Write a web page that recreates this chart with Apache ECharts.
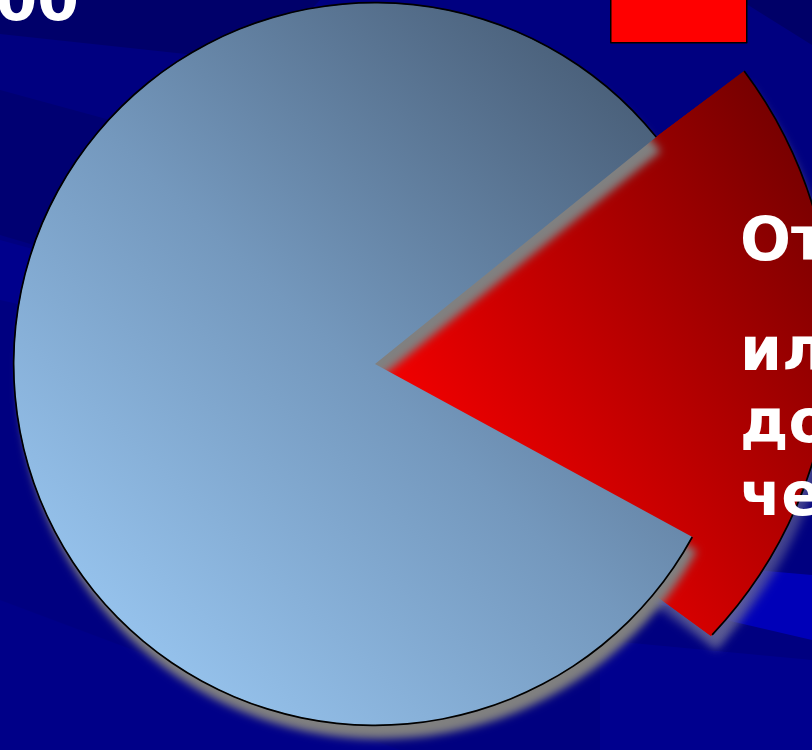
<!DOCTYPE html>
<html>
<head>
<meta charset="utf-8">
<script src="https://cdn.jsdelivr.net/npm/echarts@6/dist/echarts.min.js"></script>
<style>
html,body{margin:0;padding:0;background:#000080;}
#chart{width:812px;height:750px;}
</style>
</head>
<body>
<div id="chart"></div>
<script>
// ---- data ----
const categories = ['Остальные', 'Отказались'];
const shares = [81.25, 18.75];
const topLabel = '00';
const sideLines = ['От', 'ил', 'до', 'че'];

const chart = echarts.init(document.getElementById('chart'), null, {renderer: 'canvas'});

const blueGrad = new echarts.graphic.LinearGradient(0, 1, 1, 0, [
  {offset: 0, color: '#A3D3FF'},
  {offset: 0.5, color: '#7498BD'},
  {offset: 1, color: '#3E5067'}
]);
// global-coordinate gradient so the two red sectors blend seamlessly
const redGrad = new echarts.graphic.LinearGradient(346, 409, 804, 93, [
  {offset: 0, color: '#FF0000'},
  {offset: 1, color: '#6E0000'}
], true);

const blueCenter = [375, 364], blueR = 361;
const blueStart = -28.6;
// exploded slice: outer part (arc) and inner part (lower edge) of the same red slice
const redOuter = {center: [394, 334], r: 437.5, start: 36.9, end: -43.4};
const redInner = {center: [345, 369], r: 453, start: 36.7, end: -36.1};

const none = {color: 'transparent', shadowColor: 'transparent', borderWidth: 0};
const common = {
  type: 'pie', silent: true, label: {show: false}, labelLine: {show: false},
  emphasis: {disabled: true}, animation: false, clockwise: true
};
const redShadow = {shadowColor: 'rgba(110,110,150,0.6)', shadowBlur: 10, shadowOffsetX: 5, shadowOffsetY: 14};

function redPiece(g, z, withShadow) {
  return Object.assign({}, common, {
    center: g.center, radius: [0, g.r], startAngle: g.start, endAngle: g.end, z: z,
    data: [{name: categories[1], value: shares[1],
      itemStyle: Object.assign({color: redGrad}, withShadow ? redShadow : {shadowColor: 'transparent'})}]
  });
}

const textFont = 'bold 60px "DejaVu Sans"';
const lineBase = [265, 375, 447, 520];

chart.setOption({
  backgroundColor: '#000080',
  animation: false,
  legend: {
    left: 605, top: -13, padding: 5,
    itemWidth: 136, itemHeight: 50,
    formatter: () => '',
    selectedMode: false,
    data: [{name: categories[1], icon: 'rect', itemStyle: {color: '#FF0000', borderColor: '#000', borderWidth: 1.5}}]
  },
  graphic: [
    {type: 'polygon', z: 0, silent: true, shape: {points: [[0,0],[320,0],[260,62],[0,34]]}, style: {fill: '#00006A'}},
    {type: 'polygon', z: 0, silent: true, shape: {points: [[0,90],[0,235],[220,300],[220,150]]}, style: {fill: '#000072'}},
    {type: 'polygon', z: 0, silent: true, shape: {points: [[0,240],[0,300],[220,350],[220,300]]}, style: {fill: '#00008C'}},
    {type: 'polygon', z: 0, silent: true, shape: {points: [[0,600],[0,750],[400,750]]}, style: {fill: '#000088'}},
    {type: 'polygon', z: 0, silent: true, shape: {points: [[640,560],[812,575],[812,640],[640,600]]}, style: {fill: '#0000B8'}},
    {type: 'polygon', z: 0, silent: true, shape: {points: [[600,640],[812,660],[812,750],[600,750]]}, style: {fill: '#00008E'}},
    {type: 'polygon', z: 0, silent: true, shape: {points: [[740,0],[812,0],[812,45]]}, style: {fill: '#000068'}},
    {type: 'text', z: 100, silent: true, style: {text: topLabel, x: 79, y: 4, font: textFont, fill: '#FFFFFF', align: 'right', verticalAlign: 'middle'}},
    ...sideLines.map((t, i) => ({
      type: 'text', z: 100, silent: true,
      style: {text: t, x: 740, y: lineBase[i] - 21, font: textFont, fill: '#FFFFFF', align: 'left', verticalAlign: 'middle'}
    }))
  ],
  series: [
    redPiece(redOuter, 2, true),
    redPiece(redInner, 2, true),
    redPiece(redOuter, 2, false),
    redPiece(redInner, 2, false),
    Object.assign({}, common, {
      name: 'redRim', center: redOuter.center, radius: [redOuter.r - 0.5, redOuter.r + 1.2],
      startAngle: redOuter.start, endAngle: redOuter.end, z: 3,
      data: [{name: categories[1], value: shares[1], itemStyle: {color: '#000000'}}]
    }),
    Object.assign({}, common, {
      name: 'blue', center: blueCenter, radius: [0, blueR],
      startAngle: blueStart, z: 4,
      data: [
        {name: categories[0], value: shares[0], itemStyle: {color: blueGrad, shadowColor: '#808080', shadowBlur: 8, shadowOffsetX: 5, shadowOffsetY: 14}},
        {name: categories[1], value: shares[1], itemStyle: none}
      ]
    }),
    Object.assign({}, common, {
      name: 'blueRim', center: blueCenter, radius: [blueR - 0.5, blueR + 1.2],
      startAngle: blueStart, z: 5,
      data: [
        {name: categories[0], value: shares[0], itemStyle: {color: '#000000'}},
        {name: categories[1], value: shares[1], itemStyle: none}
      ]
    })
  ]
});
</script>
</body>
</html>
